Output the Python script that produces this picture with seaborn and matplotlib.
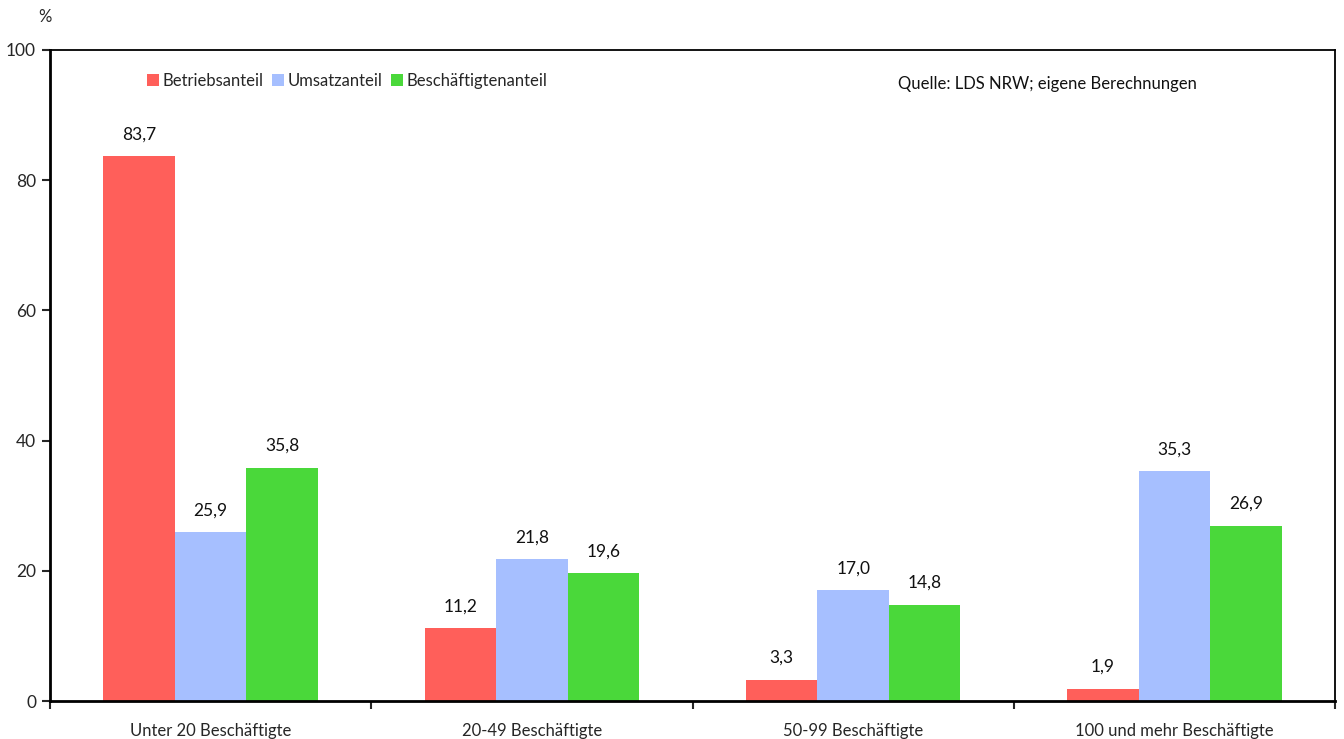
import matplotlib
matplotlib.use("Agg")
import matplotlib.pyplot as plt
import seaborn as sns
import pandas as pd
from matplotlib.ticker import FixedLocator

categories = ["Unter 20 Beschäftigte", "20-49 Beschäftigte", "50-99 Beschäftigte", "100 und mehr Beschäftigte"]
series = ["Betriebsanteil", "Umsatzanteil", "Beschäftigtenanteil"]
betriebsanteil = [83.7, 11.2, 3.3, 1.9]
umsatzanteil = [25.9, 21.8, 17.0, 35.3]
beschaeftigtenanteil = [35.8, 19.6, 14.8, 26.9]
colors = ["#FF5F5A", "#A6BFFF", "#4AD83A"]
y_ticks = [0, 20, 40, 60, 80, 100]

rows = []
for s, vals in zip(series, [betriebsanteil, umsatzanteil, beschaeftigtenanteil]):
    for c, v in zip(categories, vals):
        rows.append({"Kategorie": c, "Serie": s, "Wert": v})
df = pd.DataFrame(rows)

sns.set_style("white")
plt.rcParams["font.family"] = ["Lato", "DejaVu Sans"]

fig = plt.figure(figsize=(13.44, 7.39), dpi=100)
ax = fig.add_axes([50/1344, 1-701/739, (1335-50)/1344, (701-50)/739])

sns.barplot(data=df, x="Kategorie", y="Wert", hue="Serie", order=categories,
            hue_order=series, palette=colors, saturation=1, width=0.667,
            ax=ax, errorbar=None, linewidth=0)

for cont in ax.containers:
    ax.bar_label(cont, labels=[f"{v:.1f}".replace(".", ",") for v in cont.datavalues],
                 padding=10, fontsize=12.5, color="#111111")

ax.set_xlim(-0.5, 3.5)
ax.set_ylim(0, 100)
ax.set_yticks(y_ticks)
ax.set_yticklabels([str(t) for t in y_ticks], fontsize=12.5)
ax.set_xlabel("")
ax.set_ylabel("")
ax.tick_params(axis="x", which="major", length=0, labelsize=12, pad=16)
ax.xaxis.set_minor_locator(FixedLocator([-0.5, 0.5, 1.5, 2.5, 3.5]))
ax.tick_params(axis="x", which="minor", length=6, width=1.5, direction="out", bottom=True)
ax.tick_params(axis="y", length=6, width=1.5, direction="out", left=True, pad=4)
for sp in ax.spines.values():
    sp.set_visible(True)
    sp.set_color("black")
    sp.set_linewidth(1.3)
ax.spines["left"].set_linewidth(2)
ax.spines["bottom"].set_linewidth(2)

ax.legend(loc="upper left", bbox_to_anchor=(0.07, 0.975), ncol=3, frameon=False,
          fontsize=12, handlelength=0.75, handleheight=0.75, handletextpad=0.2,
          columnspacing=0.5, borderaxespad=0)

ax.text(0.776, 0.948, "Quelle: LDS NRW; eigene Berechnungen", transform=ax.transAxes,
        fontsize=12, ha="center", va="center", color="#111111")
fig.text(45/1344, 1-17/739, "%", fontsize=12, ha="center", va="center")

fig.savefig("out.png", dpi=100)
